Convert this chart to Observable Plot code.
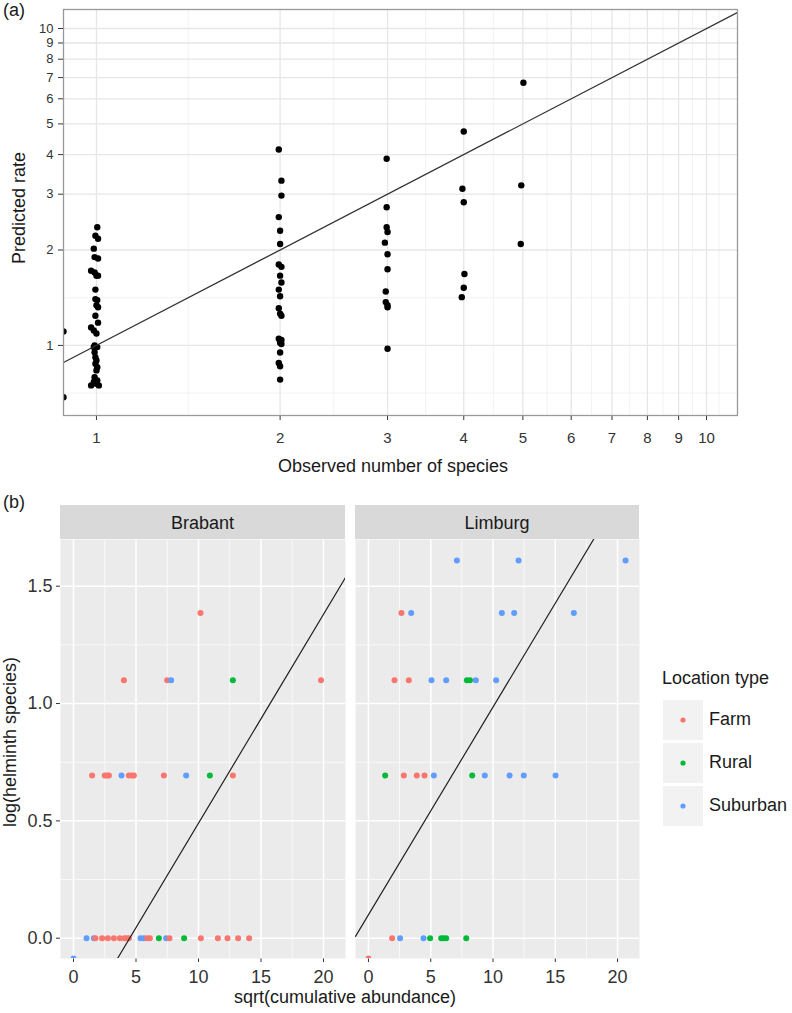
<!DOCTYPE html>
<html>
<head>
<meta charset="utf-8">
<script src="https://cdn.jsdelivr.net/npm/d3@7"></script>
<script src="https://cdn.jsdelivr.net/npm/@observablehq/plot@0.6"></script>
<style>
  body { margin: 0; background: #fff; }
  #root { position: relative; width: 792px; height: 1013px; overflow: hidden; background: #fff; }
</style>
</head>
<body>
<div id="root"></div>
<script>
// ---------------- Panel (a) data ----------------
// Observed number of species (with the small horizontal jitter seen in the figure) and predicted rate
const obs1  = [1.003,0.996,1.006,0.99,0.993,1.006,0.98,0.993,1.0,1.006,0.996,0.996,1.003,1.0,1.006,0.996,1.006,0.98,0.99,1.0,0.993,0.99,1.003,0.993,0.996,1.0,0.996,1.003,1.0,0.993,1.003,0.99,1.0,0.98,1.009];
const pred1 = [2.36,2.22,2.17,2.02,1.90,1.88,1.72,1.70,1.66,1.66,1.50,1.40,1.39,1.34,1.32,1.24,1.18,1.14,1.115,1.09,1.00,0.988,0.988,0.952,0.918,0.897,0.876,0.854,0.834,0.794,0.776,0.767,0.757,0.748,0.748];
const obs2  = [1.99,2.01,2.01,1.99,2.0,2.0,1.99,2.01,2.0,2.01,1.99,2.0,1.99,2.0,2.01,1.99,2.01,2.0,2.01,2.0,1.99,2.0,2.0];
const pred2 = [4.15,3.31,2.97,2.54,2.30,2.09,1.80,1.77,1.66,1.58,1.50,1.43,1.31,1.26,1.24,1.05,1.04,1.02,1.01,0.95,0.88,0.86,0.78];
const obs3  = [2.99,2.99,2.99,3.0,2.97,3.0,3.0,2.98,2.98,3.0,3.0,3.0];
const pred3 = [3.88,2.73,2.36,2.28,2.11,1.94,1.74,1.48,1.37,1.34,1.32,0.976];
const obs4  = [4.0,3.98,4.0,4.01,4.0,3.97];
const pred4 = [4.73,3.12,2.83,1.68,1.52,1.42];
const obs5  = [5.01,4.97,4.96];
const pred5 = [6.74,3.20,2.09];
// observed 0 species -> log gives -Inf, drawn on the panel edge
const obs0  = [-Infinity,-Infinity];
const pred0 = [1.107,0.686];

const xTicksA = [1,2,3,4,5,6,7,8,9,10];
const yTicksA = [1,2,3,4,5,6,7,8,9,10];
const xBreaksForMinorA = [1,2,3,4,5,6,7,8,9,10,11];
const yMinorA = [0.707,1.414];
const xDomainA = [0.883, 11.24];
const yDomainA = [0.601, 11.48];

// ---------------- Panel (b) data ----------------
const typeDomain = ["Farm","Rural","Suburban"];
const typeColors = ["#F8766D","#00BA38","#619CFF"];

const brabantX = [10.16,
  4.03,7.49,7.81,12.75,19.8,
  1.49,2.5,2.7,2.83,3.84,4.43,4.64,4.83,7.23,9.01,10.91,12.75,
  1.04,1.63,1.76,2.29,2.75,3.23,3.71,4.08,4.24,4.43,5.36,5.63,5.89,6.11,6.83,7.41,7.68,8.85,10.19,11.55,12.32,13.17,14.05,
  0];
const brabantY = [1.386,
  1.099,1.099,1.099,1.099,1.099,
  0.693,0.693,0.693,0.693,0.693,0.693,0.693,0.693,0.693,0.693,0.693,0.693,
  0,0,0,0,0,0,0,0,0,0,0,0,0,0,0,0,0,0,0,0,0,0,0,
  -Infinity];
const brabantType = ["Farm",
  "Farm","Farm","Suburban","Rural","Farm",
  "Farm","Farm","Farm","Farm","Suburban","Farm","Farm","Farm","Farm","Suburban","Rural","Farm",
  "Suburban","Suburban","Farm","Farm","Farm","Farm","Farm","Farm","Farm","Farm","Suburban","Suburban","Farm","Farm","Rural","Suburban","Farm","Rural","Farm","Farm","Farm","Farm","Farm",
  "Suburban"];

const limburgX = [7.1,12.05,20.64,
  2.65,3.43,10.71,11.70,16.49,
  2.09,3.24,5.06,6.24,7.9,8.15,8.62,10.25,
  1.34,2.84,3.88,4.50,5.25,8.33,9.34,11.33,12.47,15.02,
  1.90,2.54,4.42,4.95,5.84,6.02,6.24,7.85,
  0];
const limburgY = [1.609,1.609,1.609,
  1.386,1.386,1.386,1.386,1.386,
  1.099,1.099,1.099,1.099,1.099,1.099,1.099,1.099,
  0.693,0.693,0.693,0.693,0.693,0.693,0.693,0.693,0.693,0.693,
  0,0,0,0,0,0,0,0,
  -Infinity];
const limburgType = ["Suburban","Suburban","Suburban",
  "Farm","Suburban","Suburban","Suburban","Suburban",
  "Farm","Farm","Suburban","Suburban","Rural","Rural","Suburban","Suburban",
  "Rural","Farm","Farm","Farm","Suburban","Rural","Suburban","Suburban","Suburban","Suburban",
  "Farm","Suburban","Suburban","Rural","Rural","Rural","Rural","Rural",
  "Farm"];

const regions = ["Brabant","Limburg"];
const lineIntercepts = [-0.40, 0.10];
const lineSlopes = [0.089, 0.0885];

const xTicksB = [0,5,10,15,20];
const xMinorB = [2.5,7.5,12.5,17.5];
const yTicksB = [0,0.5,1.0,1.5];
const yMinorB = [0.25,0.75,1.25];
const xDomainB = [-1.04, 21.76];
const yDomainB = [-0.0865, 1.699];

// ---------------- Drawing ----------------
const FONT = '"Liberation Sans", Arial, Helvetica, sans-serif';
const root = document.getElementById("root");
function place(el, left, top) {
  el.style.position = "absolute";
  el.style.left = left + "px";
  el.style.top = top + "px";
  root.appendChild(el);
}

// Panel (a)
const rowsA = [];
[[obs1,pred1],[obs2,pred2],[obs3,pred3],[obs4,pred4],[obs5,pred5],[obs0,pred0]].forEach(([xs, ys]) => {
  xs.forEach((x, i) => rowsA.push({x: Number.isFinite(x) ? x : xDomainA[0], y: ys[i]}));
});
const xMinorA = d3.pairs(xBreaksForMinorA).map(([a, b]) => Math.sqrt(a * b));
const identityLine = xDomainA.map(v => ({x: v, y: v}));

const plotA = Plot.plot({
  width: 792, height: 480,
  marginLeft: 63, marginRight: 55, marginTop: 9, marginBottom: 65,
  style: {fontFamily: FONT, fontSize: "15px", color: "#333", background: "transparent", overflow: "visible"},
  x: {type: "log", domain: xDomainA, ticks: xTicksA, tickFormat: d => String(d), tickSize: 5, tickPadding: 12, label: null},
  y: {type: "log", domain: yDomainA, ticks: yTicksA, tickFormat: () => "", tickSize: 5, tickPadding: 6, label: null},
  marks: [
    Plot.ruleX(xMinorA, {stroke: "#F0F0F0", strokeWidth: 0.9}),
    Plot.ruleY(yMinorA, {stroke: "#F0F0F0", strokeWidth: 0.9}),
    Plot.ruleX(xTicksA, {stroke: "#E6E6E6", strokeWidth: 1.3}),
    Plot.ruleY(yTicksA, {stroke: "#E6E6E6", strokeWidth: 1.3}),
    // y tick labels (all of 1..10, as in the figure)
    Plot.text(yTicksA, {y: d => d, text: d => String(d), frameAnchor: "left", dx: -10, textAnchor: "end", fill: "#333", fontSize: 13}),
    Plot.dot(rowsA, {x: "x", y: "y", r: 3.2, fill: "#000", stroke: null, clip: true}),
    Plot.line(identityLine, {x: "x", y: "y", stroke: "#333", strokeWidth: 1.3, clip: true}),
    Plot.frame({stroke: "#999", strokeWidth: 1.3})
  ]
});
place(plotA, 0, 0);

// Panel (b) facets
function facetPlot(xs, ys, types, a, b, showY) {
  const rows = xs.map((x, i) => ({x, y: Number.isFinite(ys[i]) ? ys[i] : yDomainB[0], type: types[i]}));
  const lineRows = xDomainB.map(x => ({x, y: a + b * x}));
  return Plot.plot({
    width: showY ? 345 : 284, height: 469,
    marginLeft: showY ? 60 : 0, marginRight: 0, marginTop: 0, marginBottom: 50,
    style: {fontFamily: FONT, fontSize: "18px", color: "#333", background: "transparent", overflow: "visible"},
    x: {domain: xDomainB, ticks: xTicksB, tickFormat: d => String(d), tickSize: 4, tickPadding: 8, label: null},
    y: {domain: yDomainB, ticks: yTicksB, tickFormat: d3.format(".1f"), tickSize: 4, tickPadding: 4, label: null, axis: showY ? "left" : null},
    color: {domain: typeDomain, range: typeColors},
    marks: [
      Plot.frame({fill: "#EBEBEB", stroke: null}),
      Plot.ruleX(xMinorB, {stroke: "#fff", strokeWidth: 0.7}),
      Plot.ruleY(yMinorB, {stroke: "#fff", strokeWidth: 0.7}),
      Plot.ruleX(xTicksB, {stroke: "#fff", strokeWidth: 1.5}),
      Plot.ruleY(yTicksB, {stroke: "#fff", strokeWidth: 1.5}),
      Plot.dot(rows, {x: "x", y: "y", fill: "type", r: 3, stroke: null, clip: true}),
      Plot.line(lineRows, {x: "x", y: "y", stroke: "#222", strokeWidth: 1.2, clip: true})
    ]
  });
}
place(facetPlot(brabantX, brabantY, brabantType, lineIntercepts[0], lineSlopes[0], true), 0, 539);
place(facetPlot(limburgX, limburgY, limburgType, lineIntercepts[1], lineSlopes[1], false), 355, 539);

// Text, strips and legend overlay
const ov = d3.select(root).append("svg")
  .attr("width", 792).attr("height", 1013)
  .style("position", "absolute").style("left", "0px").style("top", "0px")
  .style("pointer-events", "none")
  .style("font-family", FONT);

function txt(x, y, s, opts = {}) {
  const {size = 18, anchor = "start", rotate = false, fill = "#1a1a1a"} = opts;
  const t = ov.append("text").attr("font-size", size).attr("fill", fill).attr("text-anchor", anchor).text(s);
  if (rotate) t.attr("transform", `translate(${x},${y}) rotate(-90)`);
  else t.attr("x", x).attr("y", y);
  return t;
}

txt(3, 16, "(a)");
txt(25, 208, "Predicted rate", {anchor: "middle", rotate: true});
txt(393, 472, "Observed number of species", {anchor: "middle"});

txt(3, 508, "(b)");
const stripX = [[60, 285], [355, 284]];
regions.forEach((r, i) => {
  ov.append("rect").attr("x", stripX[i][0]).attr("y", 505).attr("width", stripX[i][1]).attr("height", 34).attr("fill", "#D9D9D9");
  txt(stripX[i][0] + stripX[i][1] / 2, 529, r, {anchor: "middle"});
});
txt(16, 742, "log(helminth species)", {anchor: "middle", rotate: true});
txt(345, 1003, "sqrt(cumulative abundance)", {anchor: "middle"});

// Legend
txt(662, 684, "Location type");
typeDomain.forEach((t, i) => {
  const top = 700 + i * 43;
  ov.append("rect").attr("x", 663).attr("y", top).attr("width", 40).attr("height", 40).attr("fill", "#F2F2F2");
  ov.append("circle").attr("cx", 683).attr("cy", top + 20).attr("r", 2.6).attr("fill", typeColors[i]);
  txt(709, top + 25, t);
});
</script>
</body>
</html>
